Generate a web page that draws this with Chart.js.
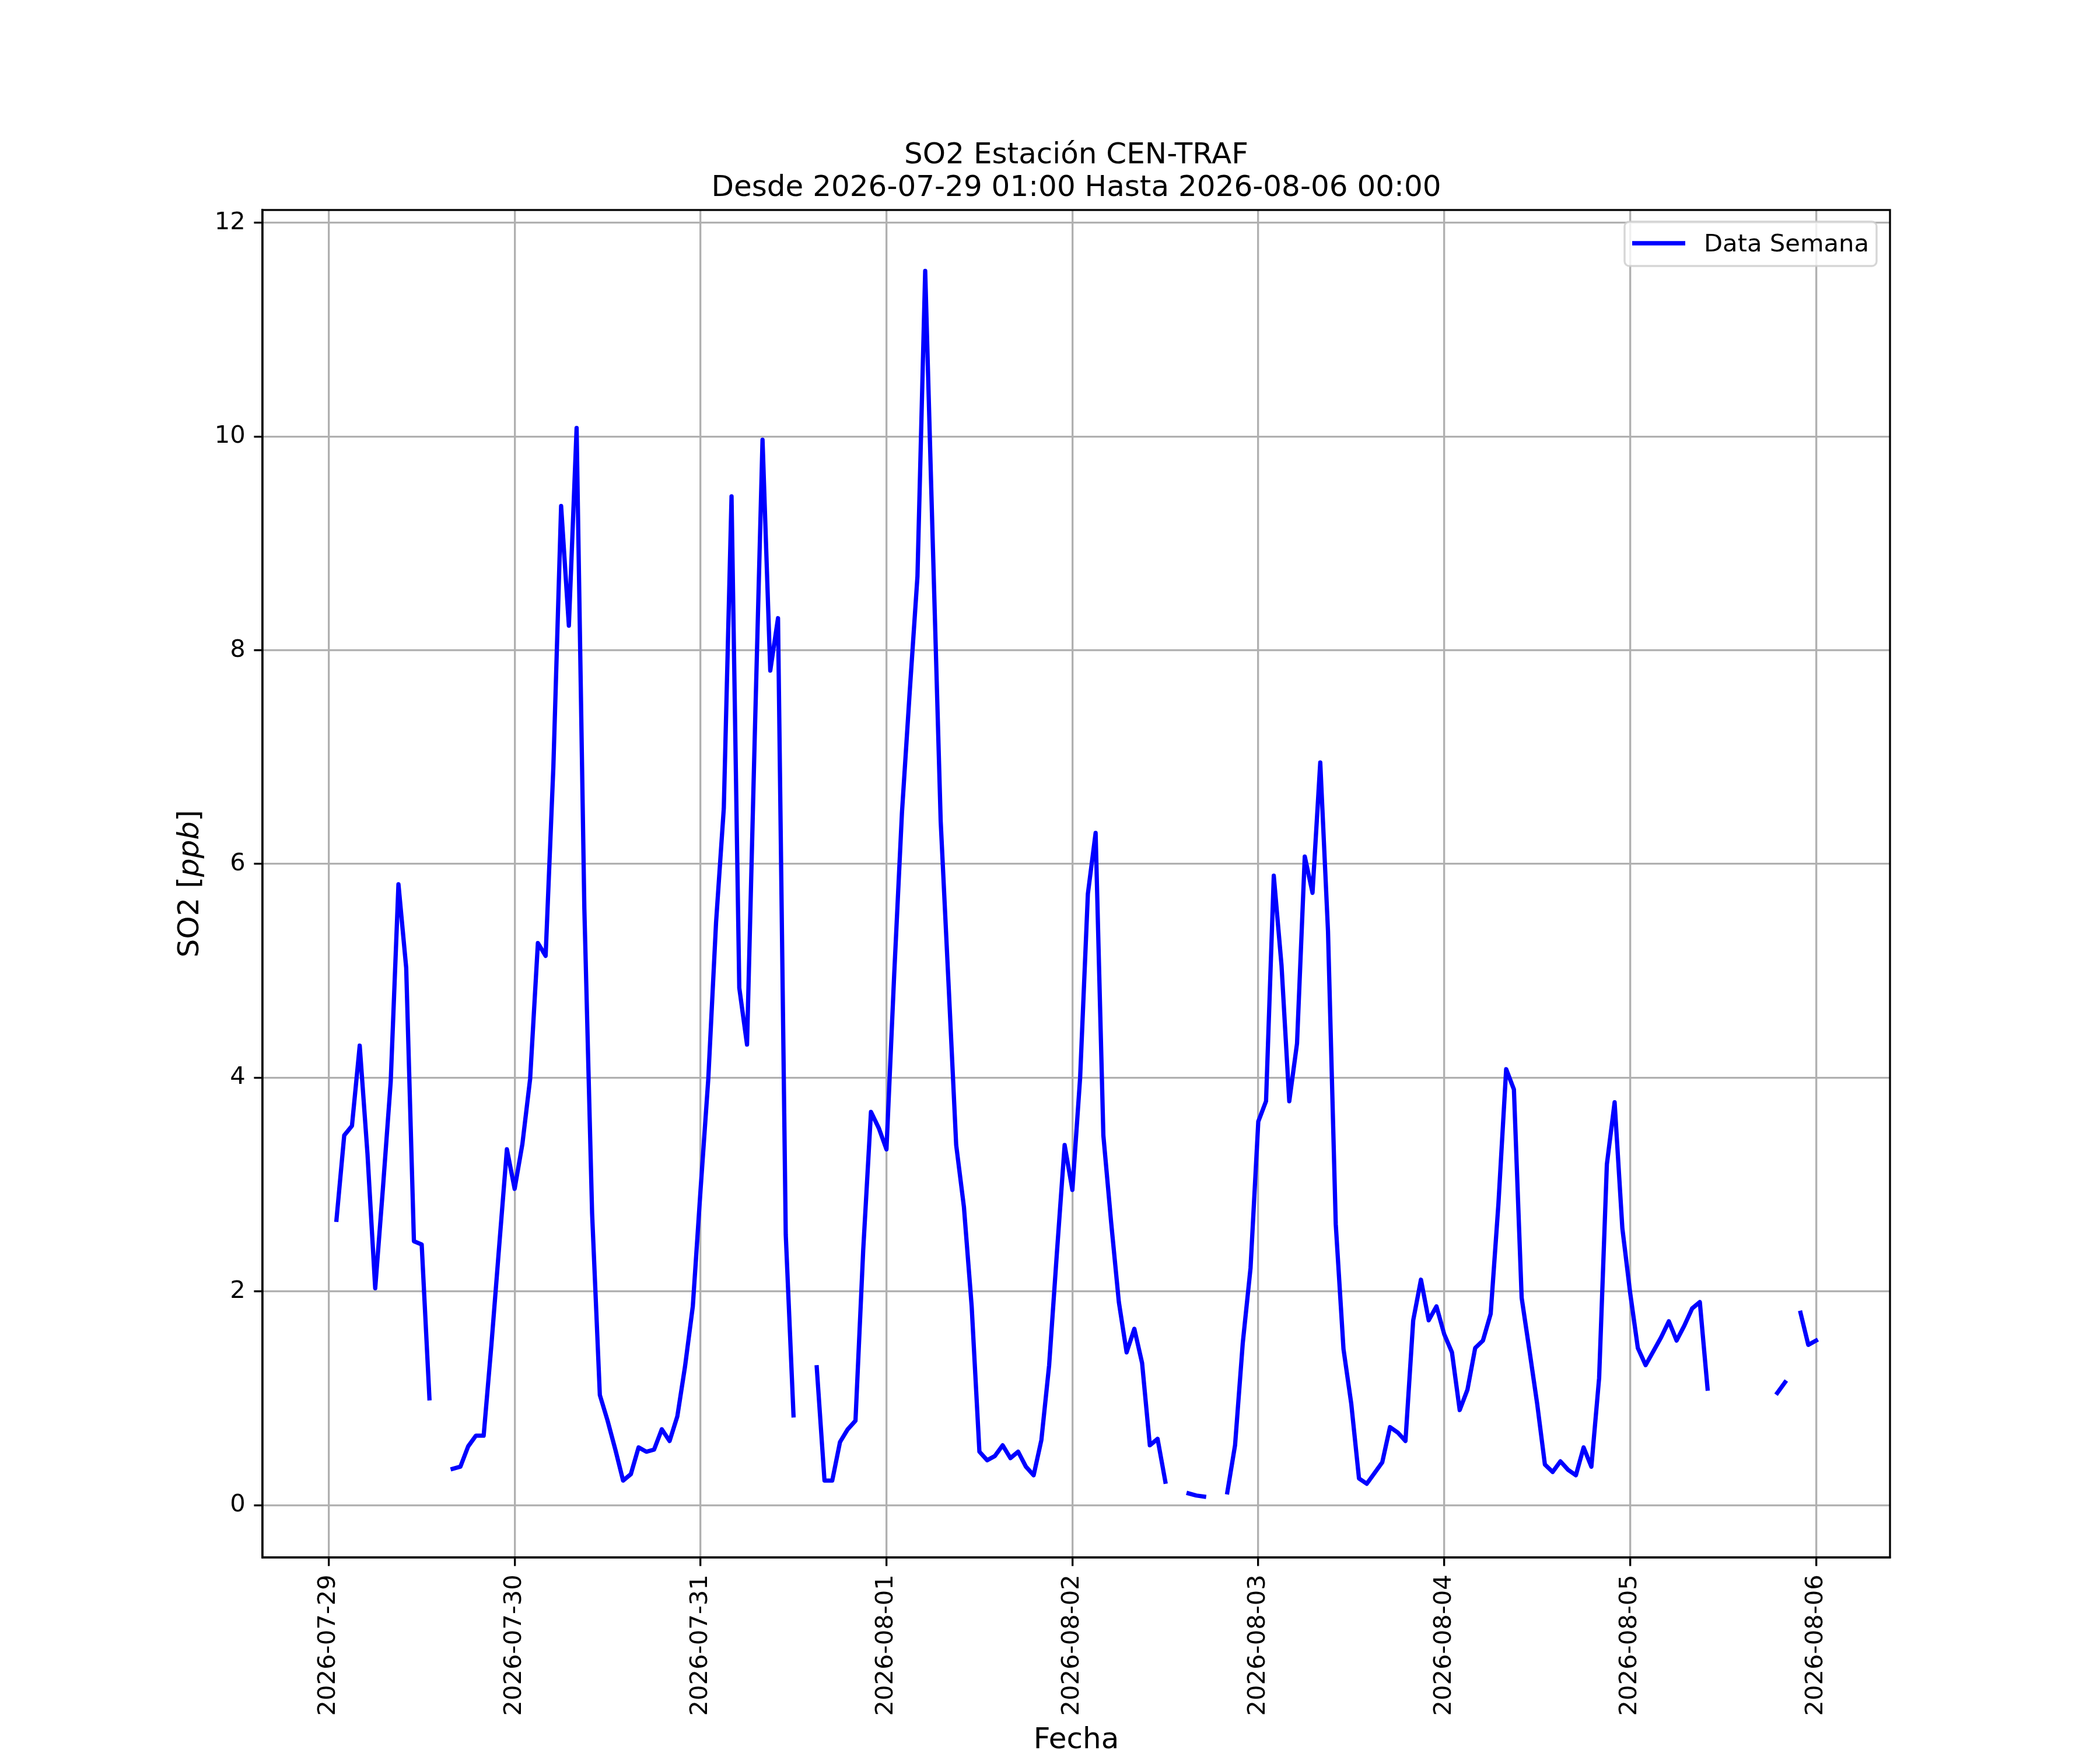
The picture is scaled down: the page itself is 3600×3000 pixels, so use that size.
<!DOCTYPE html>
<html>
<head>
<meta charset="utf-8">
<script src="https://cdn.jsdelivr.net/npm/chart.js@4.4.0/dist/chart.umd.min.js"></script>
<style>html,body{margin:0;padding:0;background:#ffffff;}</style>
</head>
<body>
<canvas id="c" width="3600" height="3000" style="width:3600px;height:3000px;display:block"></canvas>
<script>
// ---- data (hourly values, hour 1 = 2026-07-29 01:00) ----
const firstHour = 1;
const so2Values = [
  2.67,3.46,3.55,4.30,3.29,2.03,2.97,3.96,5.81,5.03,2.47,2.44,1.00,null,null,0.34,0.36,0.55,0.65,0.65,1.50,2.42,3.33,2.96,
  3.38,3.99,5.26,5.14,6.91,9.35,8.23,10.08,5.58,2.73,1.03,0.79,0.52,0.23,0.29,0.54,0.50,0.52,0.71,0.60,0.83,1.30,1.86,2.95,
  3.99,5.45,6.52,9.44,4.84,4.31,7.20,9.97,7.81,8.30,2.53,0.84,null,null,1.29,0.23,0.23,0.59,0.71,0.79,2.39,3.68,3.53,3.33,
  4.97,6.48,7.61,8.69,11.55,8.95,6.40,4.90,3.37,2.79,1.86,0.50,0.42,0.46,0.56,0.44,0.50,0.36,0.28,0.61,1.31,2.36,3.37,2.95,
  4.00,5.72,6.29,3.46,2.65,1.90,1.43,1.65,1.33,0.56,0.62,0.22,null,null,0.11,0.09,0.08,null,null,0.12,0.56,1.52,2.22,3.59,
  3.78,5.89,5.05,3.78,4.32,6.07,5.73,6.95,5.37,2.63,1.46,0.95,0.25,0.20,0.30,0.40,0.73,0.68,0.60,1.73,2.11,1.73,1.86,1.60,
  1.43,0.89,1.08,1.47,1.54,1.79,2.82,4.08,3.89,1.94,1.45,0.95,0.38,0.31,0.41,0.33,0.28,0.54,0.36,1.19,3.19,3.77,2.59,1.99,
  1.47,1.31,1.44,1.57,1.72,1.54,1.68,1.84,1.90,1.09,null,null,null,null,null,null,null,null,1.05,1.15,null,1.80,1.50,1.54
];
const tickHours  = [0,24,48,72,96,120,144,168,192];
const tickLabels = ['2026-07-29','2026-07-30','2026-07-31','2026-08-01','2026-08-02','2026-08-03','2026-08-04','2026-08-05','2026-08-06'];
const yTicks = [0,2,4,6,8,10,12];
const titleLines = ['SO2 Estación CEN-TRAF','Desde 2026-07-29 01:00 Hasta 2026-08-06 00:00'];
const seriesName = 'Data Semana';
const xAxisTitle = 'Fecha';
const yAxisTitleParts = [['SO2 [', false], ['ppb', true], [']', false]];

// ---- styling ----
const FONT = "'DejaVu Sans', 'Liberation Sans', sans-serif";
const TICK_PX = 41.7;
const LABEL_PX = 50;
const LW = 3.33;
const LINE_COLOR = '#0000ff';

const points = so2Values.map((v, i) => ({x: firstHour + i, y: v}));

const decor = {
  id: 'decor',
  afterDatasetsDraw(chart) {
    const ctx = chart.ctx, a = chart.chartArea;
    ctx.save();
    // spines
    ctx.strokeStyle = '#000000';
    ctx.lineWidth = LW;
    ctx.strokeRect(a.left, a.top, a.right - a.left, a.bottom - a.top);
    // legend
    const fs = TICK_PX;
    const bx = 2785, by = 380, bw = 432, bh = 76, r = 8;
    ctx.globalAlpha = 0.8;
    ctx.fillStyle = '#ffffff';
    ctx.strokeStyle = '#cccccc';
    ctx.lineWidth = LW;
    ctx.beginPath();
    ctx.moveTo(bx + r, by);
    ctx.lineTo(bx + bw - r, by);
    ctx.arcTo(bx + bw, by, bx + bw, by + r, r);
    ctx.lineTo(bx + bw, by + bh - r);
    ctx.arcTo(bx + bw, by + bh, bx + bw - r, by + bh, r);
    ctx.lineTo(bx + r, by + bh);
    ctx.arcTo(bx, by + bh, bx, by + bh - r, r);
    ctx.lineTo(bx, by + r);
    ctx.arcTo(bx, by, bx + r, by, r);
    ctx.closePath();
    ctx.fill();
    ctx.stroke();
    ctx.globalAlpha = 1;
    ctx.strokeStyle = LINE_COLOR;
    ctx.lineWidth = 7.3;
    ctx.lineCap = 'butt';
    ctx.beginPath();
    ctx.moveTo(2798, 417);
    ctx.lineTo(2889, 417);
    ctx.stroke();
    ctx.fillStyle = '#000000';
    ctx.font = fs + 'px ' + FONT;
    ctx.textAlign = 'left';
    ctx.textBaseline = 'alphabetic';
    ctx.fillText(seriesName, 2921, 431);
    ctx.restore();
  },
  afterDraw(chart) {
    const ctx = chart.ctx, a = chart.chartArea;
    const cx = (a.left + a.right) / 2;
    const cy = (a.top + a.bottom) / 2;
    ctx.save();
    ctx.fillStyle = '#000000';
    ctx.textBaseline = 'alphabetic';
    ctx.textAlign = 'center';
    ctx.font = LABEL_PX + 'px ' + FONT;
    ctx.fillText(titleLines[0], cx, 280);
    ctx.fillText(titleLines[1], cx, 336);
    ctx.fillText(xAxisTitle, cx, 2997);
    // y axis title with italic part
    ctx.translate(340, cy);
    ctx.rotate(-Math.PI / 2);
    ctx.textAlign = 'left';
    let total = 0;
    const widths = yAxisTitleParts.map(([t, it]) => {
      ctx.font = (it ? 'italic ' : '') + LABEL_PX + 'px ' + FONT;
      const w = ctx.measureText(t).width;
      total += w;
      return w;
    });
    let x = -total / 2;
    yAxisTitleParts.forEach(([t, it], i) => {
      ctx.font = (it ? 'italic ' : '') + LABEL_PX + 'px ' + FONT;
      ctx.fillText(t, x, 0);
      x += widths[i];
    });
    ctx.restore();
  }
};

new Chart(document.getElementById('c'), {
  type: 'line',
  data: {
    datasets: [{
      label: seriesName,
      data: points,
      borderColor: LINE_COLOR,
      backgroundColor: LINE_COLOR,
      borderWidth: 7.3,
      borderCapStyle: 'square',
      borderJoinStyle: 'round',
      pointRadius: 0,
      pointHoverRadius: 0,
      tension: 0,
      spanGaps: false,
      fill: false
    }]
  },
  options: {
    responsive: false,
    animation: false,
    devicePixelRatio: 1,
    parsing: true,
    layout: {padding: {left: 0, top: 360, right: 360, bottom: 0}},
    plugins: {legend: {display: false}, title: {display: false}, tooltip: {enabled: false}},
    scales: {
      x: {
        type: 'linear',
        min: -8.55,
        max: 201.55,
        afterBuildTicks: s => { s.ticks = tickHours.map(v => ({value: v})); },
        afterFit: s => { s.height = 330; },
        ticks: {
          autoSkip: false, minRotation: 90, maxRotation: 90, padding: 14.6,
          color: '#000000', font: {family: FONT, size: TICK_PX},
          callback: v => { const i = tickHours.indexOf(v); return i >= 0 ? tickLabels[i] : ''; }
        },
        grid: {color: '#b0b0b0', lineWidth: LW, tickLength: 14.6, tickColor: '#000000', tickWidth: LW},
        border: {display: true, color: '#000000', width: LW}
      },
      y: {
        type: 'linear',
        min: -0.49,
        max: 12.12,
        afterBuildTicks: s => { s.ticks = yTicks.map(v => ({value: v})); },
        afterFit: s => { s.width = 450; },
        ticks: {
          padding: 14.6, color: '#000000', font: {family: FONT, size: TICK_PX},
          callback: v => String(v)
        },
        grid: {color: '#b0b0b0', lineWidth: LW, tickLength: 14.6, tickColor: '#000000', tickWidth: LW},
        border: {display: true, color: '#000000', width: LW}
      }
    }
  },
  plugins: [decor]
});
</script>
</body>
</html>
